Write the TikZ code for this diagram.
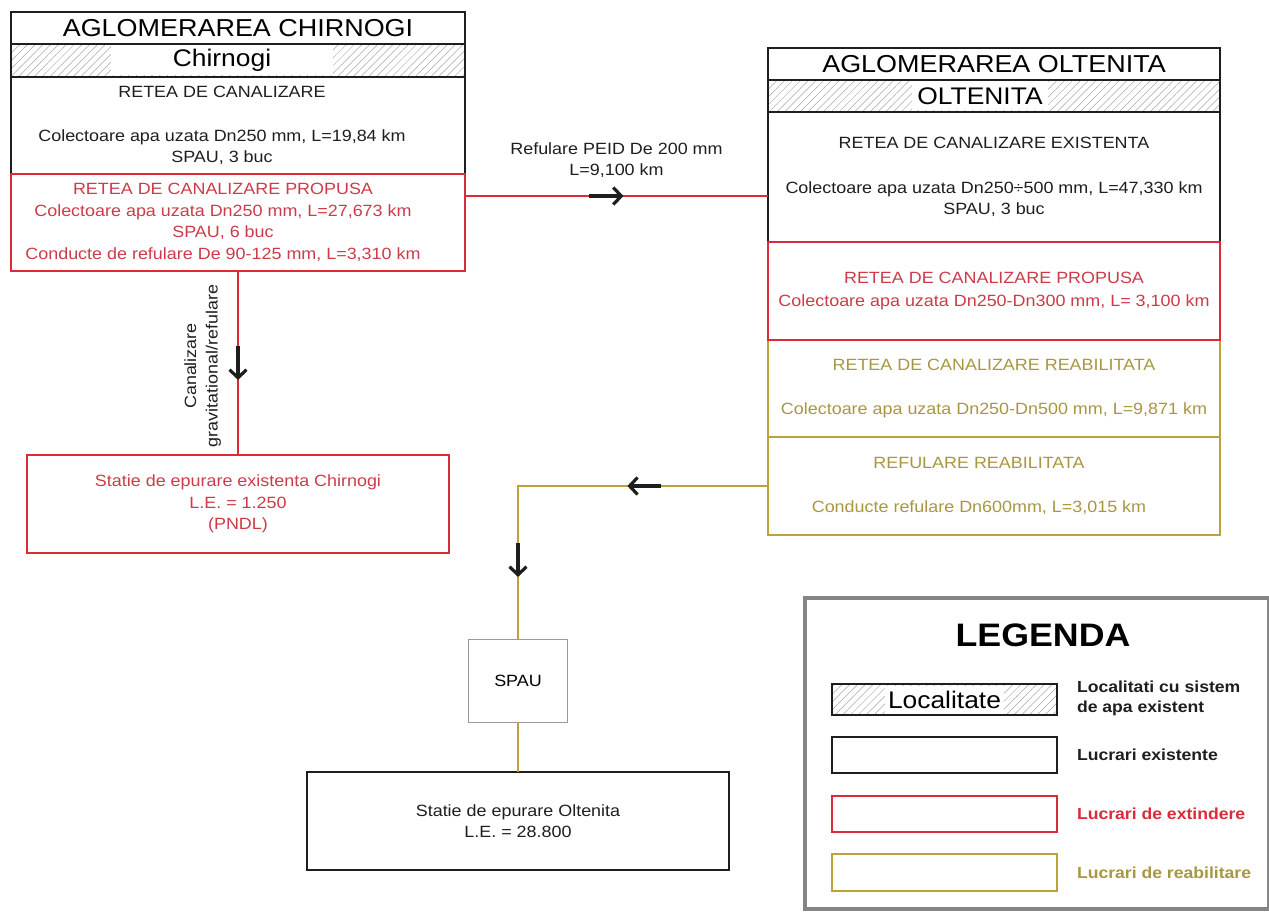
\documentclass[tikz,border=0pt]{standalone}
\usepackage{fontspec}
\setmainfont{Liberation Sans}[FakeStretch=1.1]
\usepackage{xcolor}
\definecolor{Ink}{HTML}{1E1E1E}
\definecolor{Extend}{HTML}{D92B38}
\definecolor{ExtendText}{HTML}{CC3B48}
\definecolor{Rehab}{HTML}{BCA238}
\definecolor{RehabText}{HTML}{A89642}
\definecolor{Frame}{HTML}{858585}
\definecolor{Hatch}{HTML}{A6A6A6}
\definecolor{Spau}{HTML}{9A9A9A}
\usepackage{tikz}
\usetikzlibrary{arrows.meta,positioning,patterns.meta,decorations.markings}

\begin{document}
\begin{tikzpicture}[x=1pt,y=-1pt,every node/.style={font=\fontsize{16.3}{21.5}\selectfont,align=center,inner sep=0pt,outer sep=0pt},
titlebox/.style={draw=Ink,line width=2pt,minimum height=32pt,font=\fontsize{24.5}{26}\selectfont},
hatchbox/.style={draw=Ink,line width=2pt,pattern={Lines[angle=45,distance=5.5pt,line width=0.5pt]},pattern color=Hatch},
loclabel/.style={fill=white,font=\fontsize{24}{26}\selectfont},
exbox/.style={draw=Ink,line width=2pt,text=Ink},
newbox/.style={draw=Extend,line width=2pt,text=ExtendText},
rehabbox/.style={draw=Rehab,line width=1.6pt,text=RehabText},
legtext/.style={font=\bfseries\fontsize{16}{20}\selectfont,align=left,anchor=west},
flowmark/.style={postaction={decorate,decoration={markings,mark=at position #1 with {\draw[draw=Ink,line width=3.2pt,-{Straight Barb[length=8pt,width=17pt]}] (-34pt,0) -- (0,0);}}}}]
\useasboundingbox (0,0) rectangle (1269,912);
\node[titlebox,minimum width=454pt] (chiTitle) at (238,28) {AGLOMERAREA CHIRNOGI};
\node[hatchbox,minimum width=454pt,minimum height=33pt,below=0pt of chiTitle] (chiLoc) {};
\node[loclabel,minimum width=222pt,minimum height=30pt] (chiName) at ([xshift=-16pt]chiLoc.center) {Chirnogi};
\node[exbox,minimum width=454pt,minimum height=97pt,below=0pt of chiLoc] (chiEx) {};
\node[text=Ink] (chiExTxt) at ([xshift=-16pt]chiEx.center) {RETEA DE CANALIZARE\\[22pt]Colectoare apa uzata Dn250 mm, L=19,84 km\\SPAU, 3 buc};
\node[newbox,minimum width=454pt,minimum height=97pt,below=0pt of chiEx] (chiProp) {};
\node[text=ExtendText] (chiPropTxt) at ([xshift=-15pt]chiProp.center) {RETEA DE CANALIZARE PROPUSA\\Colectoare apa uzata Dn250 mm, L=27,673 km\\SPAU, 6 buc\\Conducte de refulare De 90-125 mm, L=3,310 km};
\node[newbox,minimum width=422pt,minimum height=98pt] (chiSta) at (238,504) {Statie de epurare existenta Chirnogi\\L.E. = 1.250\\(PNDL)};
\node[titlebox,minimum width=452pt] (oltTitle) at (994,64) {AGLOMERAREA OLTENITA};
\node[hatchbox,minimum width=452pt,minimum height=32pt,below=0pt of oltTitle] (oltLoc) {};
\node[loclabel,minimum width=136pt,minimum height=29pt] (oltName) at ([xshift=-14pt]oltLoc.center) {OLTENITA};
\node[exbox,minimum width=452pt,minimum height=130pt,below=0pt of oltLoc] (oltEx) {RETEA DE CANALIZARE EXISTENTA\\[23pt]Colectoare apa uzata Dn250÷500 mm, L=47,330 km\\SPAU, 3 buc};
\node[rehabbox,minimum width=452pt,minimum height=97pt] (oltRea) at (994,388.5) {RETEA DE CANALIZARE REABILITATA\\[23pt]Colectoare apa uzata Dn250-Dn500 mm, L=9,871 km};
\node[rehabbox,minimum width=452pt,minimum height=98pt,below=0pt of oltRea] (oltRef) {};
\node[text=RehabText] (oltRefTxt) at ([xshift=-15pt]oltRef.center) {REFULARE REABILITATA\\[23pt]Conducte refulare Dn600mm, L=3,015 km};
\node[newbox,minimum width=452pt,minimum height=98pt,below=0pt of oltEx] (oltProp) {RETEA DE CANALIZARE PROPUSA\\[2pt]Colectoare apa uzata Dn250-Dn300 mm, L= 3,100 km};
\node[draw=Spau,line width=1pt,minimum width=99pt,minimum height=83pt] (spau) at (518,680.5) {SPAU};
\node[exbox,line width=2.4pt,minimum width=422pt,minimum height=98pt] (oltSta) at (518,821) {Statie de epurare Oltenita\\L.E. = 28.800};
\coordinate (refA) at ([yshift=-22pt]chiProp.north east);
\draw[draw=Extend,line width=2pt,flowmark=0.523] (refA) -- (refA -| oltEx.west) node[midway,above=18pt,text=Ink] (refLbl) {Refulare PEID De 200 mm\\L=9,100 km};
\draw[draw=Extend,line width=2pt,flowmark=0.592] (chiProp.south) -- (chiSta.north);
\node[rotate=90,anchor=south,text=Ink] (gravLbl) at (221,366) {Canalizare\\gravitational/refulare};
\draw[draw=Rehab,line width=2pt,flowmark=0.349,flowmark=0.846] (oltRef.west) -| (spau.north);
\draw[draw=Rehab,line width=2pt] (spau.south) -- (oltSta.north);
\node[draw=Frame,line width=4pt,minimum width=464pt,minimum height=311pt] (legFrame) at (1037,753.5) {};
\node[font=\bfseries\fontsize{32.5}{34}\selectfont] (legTitle) at (1043,635) {LEGENDA};
\node[hatchbox,line width=1.6pt,minimum width=225pt,minimum height=31pt] (legLoc) at (944.5,699.5) {};
\node[loclabel,minimum height=28pt,inner xsep=3pt] (legLocName) at (legLoc) {Localitate};
\node[exbox,line width=1.6pt,minimum width=225pt,minimum height=36pt] (legEx) at (944.5,755) {};
\node[newbox,line width=2pt,minimum width=225pt,minimum height=36pt] (legNew) at (944.5,814) {};
\node[rehabbox,line width=2pt,minimum width=225pt,minimum height=37pt] (legRea) at (944.5,872.5) {};
\node[legtext,text=Ink] (legLocTxt) at (1077,698) {Localitati cu sistem\\de apa existent};
\node[legtext,text=Ink] (legExTxt) at (1077,755) {Lucrari existente};
\node[legtext,text=Extend] (legNewTxt) at (1077,814) {Lucrari de extindere};
\node[legtext,text=RehabText] (legReaTxt) at (1077,873) {Lucrari de reabilitare};
\end{tikzpicture}
\end{document}
